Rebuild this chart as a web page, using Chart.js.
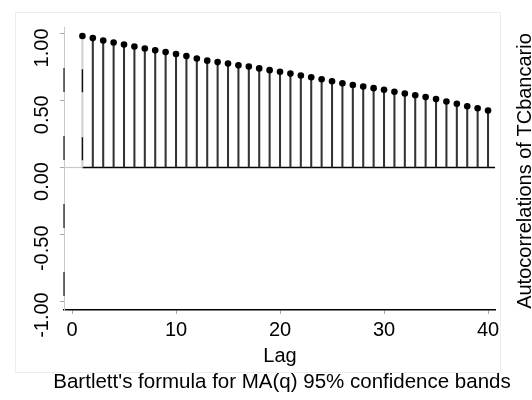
<!DOCTYPE html>
<html><head><meta charset="utf-8">
<script src="https://cdn.jsdelivr.net/npm/chart.js@4/dist/chart.umd.min.js"></script>
<style>html,body{margin:0;padding:0;background:#fff}#wrap{width:532px;height:400px;position:relative}</style>
</head><body><div id="wrap"><canvas id="c" width="532" height="400"></canvas></div>
<script>
const lags = [1,2,3,4,5,6,7,8,9,10,11,12,13,14,15,16,17,18,19,20,21,22,23,24,25,26,27,28,29,30,31,32,33,34,35,36,37,38,39,40];
const acValues = [0.985,0.969,0.951,0.936,0.921,0.906,0.891,0.877,0.864,0.849,0.834,0.816,0.800,0.789,0.779,0.765,0.756,0.742,0.729,0.717,0.703,0.689,0.676,0.661,0.646,0.631,0.618,0.606,0.594,0.582,0.567,0.554,0.541,0.527,0.512,0.494,0.477,0.459,0.444,0.427];
const yTicks = [-1, -0.5, 0, 0.5, 1];
const yTickLabels = ["-1.00", "-0.50", "0.00", "0.50", "1.00"];
const xTicks = [0, 10, 20, 30, 40];
const xTickLabels = ["0", "10", "20", "30", "40"];
const xTitle = "Lag";
const yTitle = "Autocorrelations of TCbancario";
const noteText = "Bartlett's formula for MA(q) 95% confidence bands";
const xMin = -0.77, xMax = 40.67, yMin = -1.067, yMax = 1.052;

const FONT = "'Liberation Sans', Arial, sans-serif";
const pts = lags.map((l, i) => ({x: l, y: acValues[i]}));

const decor = {
  id: 'decor',
  beforeDraw(chart) {
    const ctx = chart.ctx;
    ctx.save();
    ctx.fillStyle = '#fff';
    ctx.fillRect(0, 0, chart.width, chart.height);
    ctx.strokeStyle = '#e6eef0';
    ctx.lineWidth = 1;
    ctx.strokeRect(15.5, 12.5, 485, 360);
    ctx.restore();
  },
  afterDraw(chart) {
    const ctx = chart.ctx;
    const xs = chart.scales.x, ys = chart.scales.y;
    ctx.save();
    ctx.fillStyle = '#000';
    ctx.font = '20px ' + FONT;
    ctx.textAlign = 'center';
    ctx.textBaseline = 'alphabetic';
    xTicks.forEach((v, i) => {
      ctx.fillText(xTickLabels[i], xs.getPixelForValue(v), 336);
    });
    yTicks.forEach((v, i) => {
      const py = ys.getPixelForValue(v) + 14;
      ctx.save();
      ctx.translate(48, py);
      ctx.rotate(-Math.PI / 2);
      ctx.fillText(yTickLabels[i], 0, 0);
      ctx.restore();
    });
    ctx.fillText(xTitle, 280, 362);
    ctx.save();
    ctx.translate(531, 171);
    ctx.rotate(-Math.PI / 2);
    ctx.fillText(yTitle, 0, 0);
    ctx.restore();
    ctx.font = '20.5px ' + FONT;
    ctx.fillText(noteText, 282, 388);
    ctx.restore();
  }
};

new Chart(document.getElementById('c'), {
  type: 'scatter',
  data: {
    datasets: [
      {
        type: 'scatter', data: pts, order: 0,
        pointRadius: 3.3, pointBackgroundColor: '#000', pointBorderWidth: 0, pointHoverRadius: 3.3
      },
      {
        type: 'bar', data: pts, order: 2,
        barThickness: 1.4, borderWidth: 0,
        backgroundColor: lags.map(l => l === 1 ? '#d2d2d2' : '#333')
      },
      {
        type: 'line', order: 3, data: [{x: 1, y: 0}, {x: xMax, y: 0}],
        borderColor: '#000', borderWidth: 1.5, pointRadius: 0, clip: false
      },
      {
        type: 'line', order: 4, data: [{x: xMin, y: 0}, {x: 1, y: 0}],
        borderColor: '#c8c8c8', borderWidth: 1.2, pointRadius: 0, clip: false
      },
      {
        type: 'line', order: 1, data: [{x: xMin, y: 1}, {x: xMin, y: -1}],
        borderColor: '#333', borderWidth: 1.4, pointRadius: 0, clip: false,
        borderDash: [24, 44], borderDashOffset: 34
      },
      {
        type: 'line', order: 1, data: [{x: 1, y: acValues[0]}, {x: 1, y: 0}],
        borderColor: '#111', borderWidth: 1.4, pointRadius: 0, clip: false,
        borderDash: [23, 45], borderDashOffset: 34.7
      }
    ]
  },
  options: {
    responsive: false,
    devicePixelRatio: 1,
    animation: false,
    layout: {padding: {top: 27, right: 37, bottom: 0, left: 0}},
    plugins: {legend: {display: false}, tooltip: {enabled: false}},
    scales: {
      x: {
        type: 'linear', min: xMin, max: xMax, offset: false,
        afterBuildTicks: s => { s.ticks = xTicks.map(v => ({value: v})); },
        afterFit: s => { s.height = 90; },
        ticks: {display: false},
        grid: {drawOnChartArea: false, drawTicks: true, tickLength: 4, color: '#aaa', offset: false},
        border: {display: true, color: '#000', width: 1.5}
      },
      y: {
        type: 'linear', min: yMin, max: yMax,
        afterBuildTicks: s => { s.ticks = yTicks.map(v => ({value: v})); },
        afterFit: s => { s.width = 64; },
        ticks: {display: false},
        grid: {drawOnChartArea: false, drawTicks: true, tickLength: 4, color: '#aaa'},
        border: {display: true, color: '#c8c8c8', width: 1}
      }
    }
  },
  plugins: [decor]
});
</script>
</body></html>
